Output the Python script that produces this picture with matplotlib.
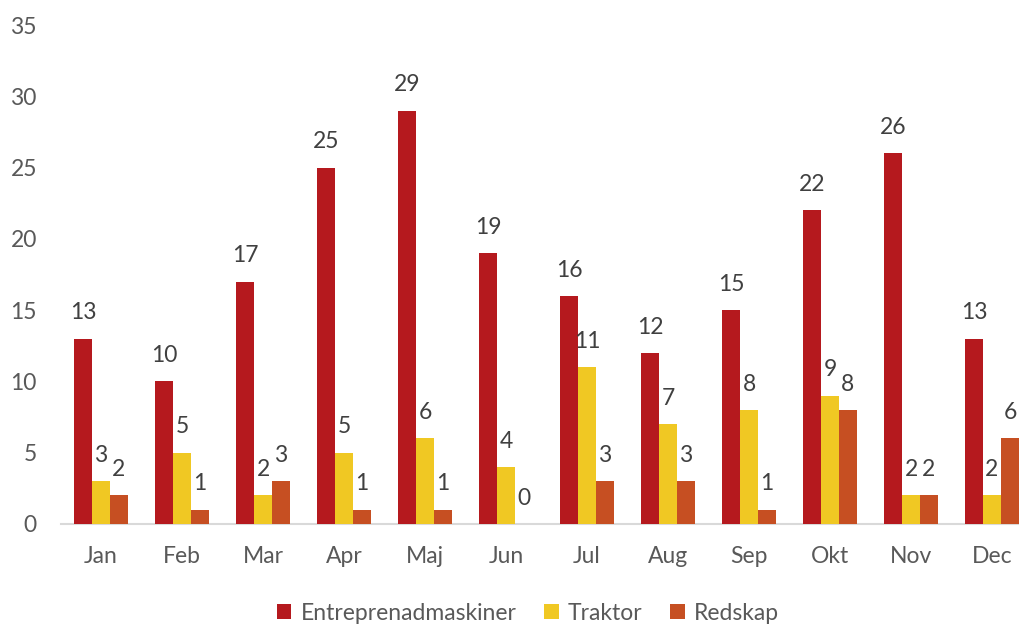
import matplotlib
matplotlib.use("Agg")
import matplotlib.pyplot as plt
import numpy as np

months = ["Jan", "Feb", "Mar", "Apr", "Maj", "Jun", "Jul", "Aug", "Sep", "Okt", "Nov", "Dec"]
entreprenad = [13, 10, 17, 25, 29, 19, 16, 12, 15, 22, 26, 13]
traktor = [3, 5, 2, 5, 6, 4, 11, 7, 8, 9, 2, 2]
redskap = [2, 1, 3, 1, 1, 0, 3, 3, 1, 8, 2, 6]

series = [("Entreprenadmaskiner", entreprenad, "#B5191E"),
          ("Traktor", traktor, "#F0C823"),
          ("Redskap", redskap, "#C64F22")]

plt.rcParams['font.family'] = ['Lato', 'DejaVu Sans']

W, H = 1019, 624
fig = plt.figure(figsize=(W / 100, H / 100), dpi=100)
left = 60.5 / W
width = 972 / W
bottom = 100 / H
height = 499 / H
ax = fig.add_axes([left, bottom, width, height])

FS = 16.5
x = np.arange(len(months))
bw = 0.222
for i, (name, vals, col) in enumerate(series):
    pos = x + (i - 1) * bw
    ax.bar(pos, vals, bw, color=col, label=name, linewidth=0, zorder=2)
    for p, v in zip(pos, vals):
        ax.annotate(str(v), (p, v), xytext=(0, 11), textcoords="offset points",
                    ha="center", va="bottom", fontsize=FS, color="#404040",
                    annotation_clip=False)

ax.set_xlim(-0.5, 11.5)
ax.set_ylim(0, 35)
ax.set_yticks(range(0, 36, 5))
ax.set_xticks(x)
ax.set_xticklabels(months)
ax.tick_params(axis='both', length=0, labelsize=FS, labelcolor="#595959")
ax.tick_params(axis='y', pad=17)
ax.tick_params(axis='x', pad=16)
for s in ["top", "right", "left"]:
    ax.spines[s].set_visible(False)
ax.spines["bottom"].set_color("#D9D9D9")
ax.spines["bottom"].set_linewidth(1.5)
ax.spines["bottom"].set_zorder(1)

leg = fig.legend(loc="center", bbox_to_anchor=(528 / W, 1 - 613 / H), ncol=3, frameon=False,
                 fontsize=FS, handlelength=0.65, handleheight=0.65, handletextpad=0.4,
                 columnspacing=1.2, labelcolor="#595959")

fig.savefig("out.png", dpi=100)
